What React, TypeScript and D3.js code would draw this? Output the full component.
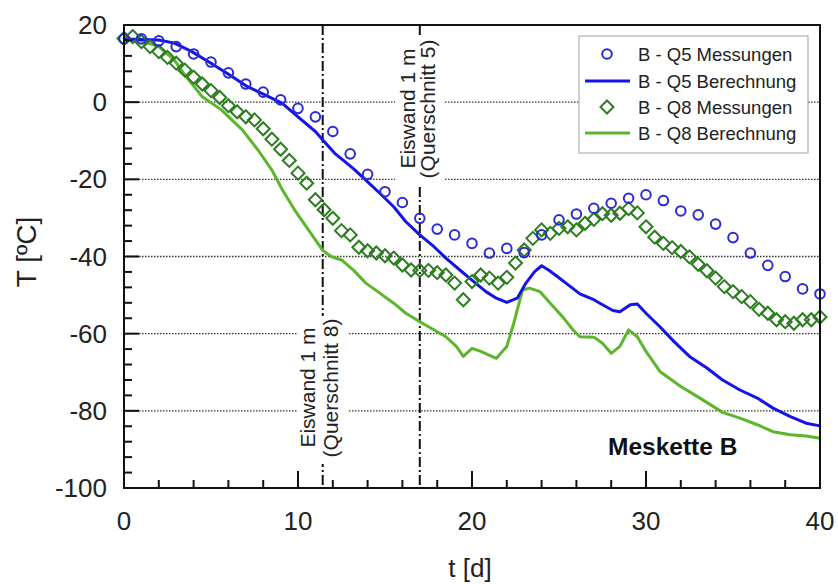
import React from "react";
import * as d3 from "d3";

// ---- data ----
const q5MessT = [0,1,2,3,4,5,6,7,8,9,10,11,12,13,14,15,16,17,18,19,20,21,22,23,24,25,26,27,28,29,30,31,32,33,34,35,36,37,38,39,40];
const q5MessV = [16.4,16.4,15.9,14.4,12.5,10.4,7.6,4.7,2.6,0.6,-1.6,-3.8,-7.6,-13.4,-18.7,-23.2,-26.0,-30.1,-32.9,-34.4,-36.6,-39.1,-37.9,-39.0,-34.4,-30.5,-29.0,-27.5,-26.2,-24.9,-24.0,-25.5,-28.2,-29.2,-31.6,-35.1,-39.1,-42.3,-45.2,-48.4,-49.7];

const q8MessT = [0,0.5,1,1.5,2,2.5,3,3.5,4,4.5,5,5.5,6,6.5,7,7.5,8,8.5,9,9.5,10,10.5,11,11.5,12,12.5,13,13.5,14,14.5,15,15.5,16,16.5,17,17.5,18,18.5,19,19.5,20,20.5,21,21.5,22,22.5,23,23.5,24,24.5,25,25.5,26,26.5,27,27.5,28,28.5,29,29.5,30,30.5,31,31.5,32,32.5,33,33.5,34,34.5,35,35.5,36,36.5,37,37.5,38,38.5,39,39.5,40];
const q8MessV = [16.5,17.0,15.7,14.4,13.1,11.6,10.1,8.3,6.5,4.7,3.0,1.2,-0.9,-2.5,-3.8,-4.6,-6.9,-9.6,-12.2,-15.1,-18.4,-21.0,-25.3,-27.9,-30.1,-33.3,-34.4,-37.6,-38.5,-39.1,-39.8,-40.4,-42.2,-43.5,-43.6,-43.6,-44.2,-44.8,-46.9,-51.2,-46.5,-44.8,-45.6,-46.9,-45.4,-41.7,-38.3,-35.3,-33.1,-34.0,-32.7,-32.3,-33.1,-31.4,-30.4,-28.9,-29.3,-28.8,-27.6,-28.7,-32.3,-35.0,-36.6,-37.7,-38.7,-40.1,-42.0,-43.7,-45.6,-47.8,-49.1,-50.4,-51.7,-53.7,-54.7,-56.4,-56.9,-57.3,-56.4,-56.4,-55.7];

const q5BerT = [0,2.0,2.9,3.9,5.0,6.1,7.1,8.1,9.1,10.0,11.0,11.5,12.1,13.2,13.9,14.7,15.5,16.2,17.0,17.8,18.5,19.3,20.1,20.8,21.4,22.0,22.6,23.1,23.6,24.0,24.4,24.9,25.4,26.2,27.0,27.5,28.1,28.5,29.1,29.5,30.0,30.8,31.6,32.5,33.5,34.4,35.4,36.4,37.3,38.3,39.2,40.0];
const q5BerV = [16.4,16.1,15.3,13.1,10.1,7.0,4.0,1.9,-0.3,-3.8,-7.6,-10.2,-13.2,-17.3,-20.2,-23.6,-27.1,-31.0,-34.4,-37.4,-40.4,-43.5,-46.5,-49.1,-50.8,-51.9,-50.8,-46.9,-43.9,-42.4,-43.5,-45.2,-46.9,-49.7,-51.2,-52.5,-54.0,-54.3,-52.5,-52.3,-54.7,-58.2,-62.0,-65.9,-68.9,-72.0,-74.6,-76.7,-79.3,-81.5,-83.2,-83.9];

const q8BerT = [0,1.0,2.0,2.9,3.5,4.5,5.6,6.8,7.7,8.5,9.1,9.8,10.6,11.4,11.9,12.5,13.2,13.9,14.7,15.5,16.2,17.0,17.8,18.5,19.1,19.5,20.0,20.5,21.4,22.0,22.4,22.9,23.3,23.9,24.5,25.2,25.8,26.2,27.0,27.5,28.0,28.5,29.0,29.5,30.0,30.8,32.0,33.1,34.4,35.4,36.4,37.3,38.3,39.2,40.0];
const q8BerV = [16.4,15.9,14.4,10.9,7.0,1.4,-2.0,-7.2,-12.4,-17.6,-22.7,-27.9,-33.1,-38.3,-40.0,-40.9,-43.6,-46.9,-49.5,-52.1,-54.7,-56.9,-59.0,-60.8,-63.3,-65.9,-63.8,-64.6,-66.4,-63.3,-57.3,-48.7,-48.2,-49.1,-52.1,-55.6,-59.0,-60.8,-60.9,-62.5,-65.1,-63.3,-59.0,-60.8,-64.6,-69.8,-73.7,-76.7,-80.4,-81.9,-83.6,-85.4,-86.2,-86.5,-87.1];

const xTickLabels = [0, 10, 20, 30, 40];
const yTickLabels = [20, 0, -20, -40, -60, -80, -100];
const gridValues = [0, -20, -40, -60, -80];
const sectionLines = [11.42, 17.0];
const legendLabels = ["B - Q5 Messungen", "B - Q5 Berechnung", "B - Q8 Messungen", "B - Q8 Berechnung"];

const BLUE_M = "#2b2bd6";
const BLUE_L = "#1414e6";
const GREEN_M = "#2b7d1f";
const GREEN_L = "#5db52b";
const FONT = "'Liberation Sans', Arial, sans-serif";

export default function App() {
  const x = d3.scaleLinear().domain([0, 40]).range([124, 820]);
  const y = d3.scaleLinear().domain([-100, 20]).range([488, 25]);
  const line = d3.line<[number, number]>().x(d => x(d[0])).y(d => y(d[1]));
  const zip = (a: number[], b: number[]) => a.map((t, i) => [t, b[i]] as [number, number]);

  const yTicks = d3.range(-100, 20.001, 4);
  const xTicks = d3.range(0, 40.001, 2);

  const diamond = (cx: number, cy: number, r: number) =>
    `M${cx},${cy - r}L${cx + r},${cy}L${cx},${cy + r}L${cx - r},${cy}Z`;

  const [x0, x1] = x.range();
  const [yb, yt] = y.range();
  const s5 = x(sectionLines[1]);
  const s8 = x(sectionLines[0]);

  return (
    <svg width={838} height={584} style={{ position: "absolute", left: 0, top: 0, background: "#fff" }} fontFamily={FONT}>
      {/* grid */}
      {gridValues.map(v => (
        <line key={v} x1={x0} x2={x1} y1={y(v)} y2={y(v)} stroke="#333" strokeWidth={1.3} strokeDasharray="1.5,1.5" />
      ))}
      {/* section lines */}
      {sectionLines.map(s => (
        <line key={s} x1={x(s)} x2={x(s)} y1={yt} y2={yb} stroke="#111" strokeWidth={2} strokeDasharray="10,3,2,3" />
      ))}
      {/* section labels */}
      <rect x={395} y={37} width={50} height={147} fill="#fff" />
      <text transform={`translate(${s5 - 5.3},${108.5}) rotate(-90)`} textAnchor="middle" fontSize={21} fill="#222">Eiswand 1 m</text>
      <text transform={`translate(${s5 + 14.7},${109}) rotate(-90)`} textAnchor="middle" fontSize={21} fill="#222">(Querschnitt 5)</text>
      <rect x={298} y={316} width={50} height={148} fill="#fff" />
      <text transform={`translate(${s8 - 7.7},${387.5}) rotate(-90)`} textAnchor="middle" fontSize={21} fill="#222">Eiswand 1 m</text>
      <text transform={`translate(${s8 + 15},${388}) rotate(-90)`} textAnchor="middle" fontSize={21} fill="#222">(Querschnitt 8)</text>

      {/* calculated lines */}
      <path d={line(zip(q8BerT, q8BerV)) || ""} fill="none" stroke={GREEN_L} strokeWidth={3} strokeLinejoin="round" />
      <path d={line(zip(q5BerT, q5BerV)) || ""} fill="none" stroke={BLUE_L} strokeWidth={3} strokeLinejoin="round" />

      {/* measurements */}
      {q8MessT.map((t, i) => (
        <path key={"d" + i} d={diamond(x(t), y(q8MessV[i]), 6.5)} fill="none" stroke={GREEN_M} strokeWidth={2} />
      ))}
      {q5MessT.map((t, i) => (
        <circle key={"c" + i} cx={x(t)} cy={y(q5MessV[i])} r={4.8} fill="none" stroke={BLUE_M} strokeWidth={2} />
      ))}

      {/* legend */}
      <rect x={579} y={36} width={229} height={117} fill="#fff" stroke="#b0b0b0" strokeWidth={1.2} />
      <circle cx={607} cy={54} r={4.8} fill="none" stroke={BLUE_M} strokeWidth={2} />
      <line x1={585} x2={630} y1={81} y2={81} stroke={BLUE_L} strokeWidth={3} />
      <path d={diamond(607, 107, 6.5)} fill="none" stroke={GREEN_M} strokeWidth={2} />
      <line x1={585} x2={630} y1={133} y2={133} stroke={GREEN_L} strokeWidth={3} />
      {legendLabels.map((l, i) => (
        <text key={l} x={638} y={[54, 81, 107, 133][i] + 6.5} fontSize={18.5} fill="#222">{l}</text>
      ))}

      {/* Meskette label */}
      <text x={608} y={455} fontSize={24.5} fontWeight="bold" fill="#111">Meskette B</text>

      {/* frame */}
      <rect x={x0} y={yt} width={x1 - x0} height={yb - yt} fill="none" stroke="#111" strokeWidth={2} />
      {/* y ticks */}
      {yTicks.map(v => {
        const major = Math.abs(v % 20) < 1e-6;
        return <line key={"yt" + v} x1={x0} x2={x0 + (major ? 15 : 8)} y1={y(v)} y2={y(v)} stroke="#111" strokeWidth={2} />;
      })}
      {/* x ticks */}
      {xTicks.map(v => {
        const major = Math.abs(v % 10) < 1e-6;
        return <line key={"xt" + v} x1={x(v)} x2={x(v)} y1={yb} y2={yb - (major ? 17 : 8)} stroke="#111" strokeWidth={2} />;
      })}
      {/* tick labels */}
      {yTickLabels.map(v => (
        <text key={"yl" + v} x={107} y={y(v) + 9} textAnchor="end" fontSize={26} fill="#222">{v}</text>
      ))}
      {xTickLabels.map(v => (
        <text key={"xl" + v} x={x(v)} y={530} textAnchor="middle" fontSize={26} fill="#222">{v}</text>
      ))}
      {/* axis titles */}
      <text transform="translate(36,252) rotate(-90)" textAnchor="middle" fontSize={28} fill="#222">T [ºC]</text>
      <text x={470} y={577} textAnchor="middle" fontSize={26} fill="#222">t [d]</text>
    </svg>
  );
}
